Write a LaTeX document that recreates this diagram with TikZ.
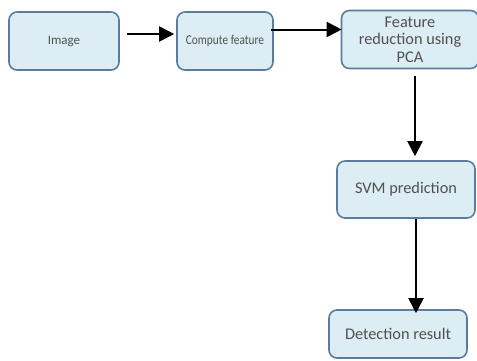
\documentclass[tikz,border=0pt]{standalone}
\usepackage{fontspec}
\setmainfont{Carlito}
\usetikzlibrary{arrows.meta}
\definecolor{boxfill}{HTML}{DCEDF4}
\definecolor{boxline}{HTML}{5A7C9E}
\definecolor{boxtext}{HTML}{505050}
\tikzset{
  stage/.style={draw=boxline, fill=boxfill, line width=1.6pt, rounded corners=8pt,
    text=boxtext, align=center, inner sep=1pt},
  flow/.style={line width=2pt, -{Triangle[length=15pt,width=15pt]}}
}
\begin{document}
\begin{tikzpicture}[x=1pt,y=-1pt]
\useasboundingbox (0,0) rectangle (477,360);
\node[stage, minimum width=110pt, minimum height=58pt, font=\fontsize{13}{15}\selectfont] (img) at (64,41) {Image};
\node[stage, minimum width=96pt, minimum height=58pt, font=\fontsize{13.5}{15}\selectfont] (comp) at (225,41) {\scalebox{0.84}[1]{Compute feature}};
\node[stage, minimum width=137pt, minimum height=58pt, font=\fontsize{16.3}{17.5}\selectfont] (pca) at (410,39.5) {Feature\\reduction using\\PCA};
\node[stage, minimum width=138pt, minimum height=57pt, font=\fontsize{16.3}{18}\selectfont] (svm) at (406,189.5) {SVM prediction};
\node[stage, minimum width=138pt, minimum height=48pt, font=\fontsize{16.3}{18}\selectfont] (det) at (398,334) {Detection result};
\draw[flow] ([xshift=7pt,yshift=7pt]img.east) -- ([xshift=-2pt,yshift=7pt]comp.west);
\draw[flow] ([xshift=-3pt,yshift=11.5pt]comp.east) -- ([xshift=1pt,yshift=10pt]pca.west);
\draw[flow] ([xshift=5pt,yshift=-7pt]pca.south) -- ([xshift=9pt,yshift=4pt]svm.north);
\draw[flow] ([xshift=10pt]svm.south) -- ([xshift=18pt,yshift=-4pt]det.north);
\end{tikzpicture}
\end{document}
